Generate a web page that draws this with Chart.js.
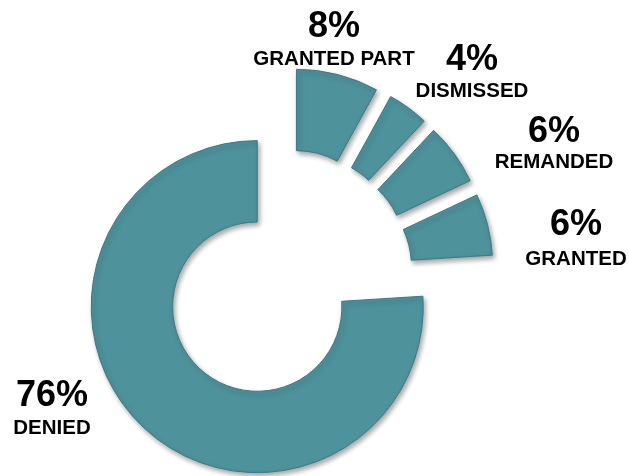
<!DOCTYPE html>
<html>
<head>
<meta charset="utf-8">
<script src="https://cdn.jsdelivr.net/npm/chart.js@4"></script>
<style>
  html, body { margin: 0; padding: 0; background: #ffffff; }
  #wrap { width: 629px; height: 476px; position: relative; }
</style>
</head>
<body>
<div id="wrap"><canvas id="c" width="629" height="476"></canvas></div>
<script>
// ---- data ----
const categories = ['GRANTED PART', 'DISMISSED', 'REMANDED', 'GRANTED', 'DENIED'];
const values = [8, 4, 6, 6, 76];

// ---- styling ----
const FILL = '#4E929C';
const BORDER = '#3A7A84';
const EXPLODE = 42;            // distance every slice is pulled out
const RADIUS = 166;
const CUTOUT = '51%';
// label anchor (centre of percentage text baseline) relative to chart centre
const labelOffsets = [[48, -239], [186, -206], [268, -134], [290, -41], [-234, 130]];
const nameGap = [28, 27, 26, 30, 28];

const explodePlugin = {
  id: 'explode',
  afterDatasetsUpdate(chart) {
    chart.getDatasetMeta(0).data.forEach(arc => {
      const mid = (arc.startAngle + arc.endAngle) / 2;
      arc.x += EXPLODE * Math.cos(mid);
      arc.y += EXPLODE * Math.sin(mid);
    });
  }
};

const shadowPlugin = {
  id: 'shadow',
  beforeDatasetDraw(chart) {
    const ctx = chart.ctx;
    ctx.save();
    ctx.shadowColor = 'rgba(0,0,0,0.35)';
    ctx.shadowBlur = 5;
    ctx.shadowOffsetX = 2;
    ctx.shadowOffsetY = 3;
  },
  afterDatasetDraw(chart) {
    chart.ctx.restore();
  }
};

const labelPlugin = {
  id: 'labels',
  afterDraw(chart) {
    const ctx = chart.ctx;
    const a = chart.chartArea;
    const cx = (a.left + a.right) / 2;
    const cy = (a.top + a.bottom) / 2;
    const total = values.reduce((s, v) => s + v, 0);
    ctx.save();
    ctx.fillStyle = '#000000';
    ctx.textAlign = 'center';
    ctx.textBaseline = 'alphabetic';
    categories.forEach((name, i) => {
      const x = cx + labelOffsets[i][0];
      const y = cy + labelOffsets[i][1];
      ctx.font = 'bold 36px "Liberation Sans", Arial, sans-serif';
      ctx.fillText(Math.round(values[i] / total * 100) + '%', x, y);
      ctx.font = 'bold 20.5px "Liberation Sans", Arial, sans-serif';
      ctx.fillText(name, x, y + nameGap[i]);
    });
    ctx.restore();
  }
};

new Chart(document.getElementById('c'), {
  type: 'doughnut',
  data: {
    labels: categories,
    datasets: [{
      data: values,
      backgroundColor: FILL,
      borderColor: BORDER,
      borderWidth: 1,
      clip: false
    }]
  },
  options: {
    responsive: false,
    animation: false,
    events: [],
    radius: RADIUS,
    cutout: CUTOUT,
    layout: { padding: { left: 0, right: 57, top: 76, bottom: 0 } },
    plugins: {
      legend: { display: false },
      tooltip: { enabled: false },
      title: { display: false }
    }
  },
  plugins: [explodePlugin, shadowPlugin, labelPlugin]
});
</script>
</body>
</html>
